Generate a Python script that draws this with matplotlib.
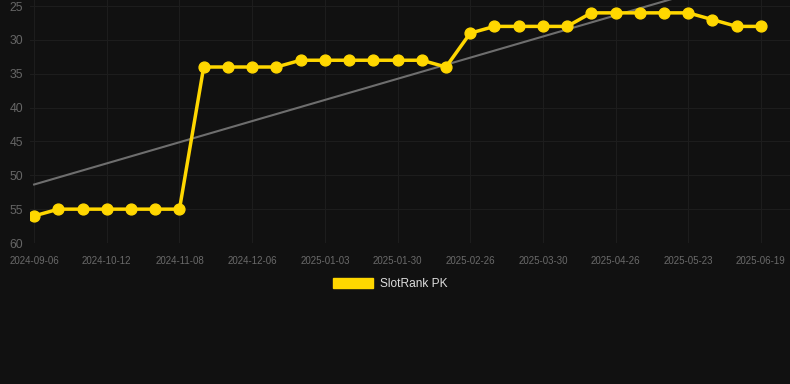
import matplotlib
matplotlib.use("Agg")
import matplotlib.pyplot as plt
from matplotlib.patches import Patch
import numpy as np

# rank per observation (lower = better), x is categorical
ranks = [56, 55, 55, 55, 55, 55, 55, 34, 34, 34, 34, 33, 33, 33, 33, 33,
         33, 34, 29, 28, 28, 28, 28, 26, 26, 26, 26, 26, 27, 28, 28]
tick_labels = ["2024-09-06", "2024-10-12", "2024-11-08", "2024-12-06",
               "2025-01-03", "2025-01-30", "2025-02-26", "2025-03-30",
               "2025-04-26", "2025-05-23", "2025-06-19"]
series_name = "SlotRank PK"

bg = "#111111"
gold = "#FFD700"

plt.rcParams["font.family"] = ["Liberation Sans", "DejaVu Sans"]

fig = plt.figure(figsize=(7.9, 3.84), dpi=100, facecolor=bg)
ax = fig.add_axes([30 / 790, 1 - 243 / 384, 760 / 790, 243 / 384])
ax.set_facecolor(bg)

x = np.arange(len(ranks))
# linear trend over the whole series
k, b = np.polyfit(x, ranks, 1)
ax.plot(x, k * x + b, color="#6e6e6e", lw=1.5, zorder=2)

ax.plot(x, ranks, color=gold, lw=2.5, marker="o", ms=7.8,
        markerfacecolor=gold, markeredgecolor=gold, zorder=3)

ax.set_ylim(60, 24.1)
ax.set_yticks([25, 30, 35, 40, 45, 50, 55, 60])
ax.set_xlim(-0.17, 31.2)
ax.set_xticks(x[::3])
ax.set_xticklabels(tick_labels)

ax.grid(True, color="#1d1d1d", lw=0.8)
ax.set_axisbelow(True)
for s in ax.spines.values():
    s.set_visible(False)
ax.tick_params(axis="y", length=0, pad=5, labelsize=8.8, labelcolor="#666666")
ax.tick_params(axis="x", length=0, pad=9, labelsize=7, labelcolor="#6a6a6a")

fig.legend(handles=[Patch(facecolor=gold, edgecolor=gold)], labels=[series_name],
           loc="center", bbox_to_anchor=(390 / 790, 1 - 284 / 384),
           frameon=False, fontsize=8.6, labelcolor="#dddddd",
           handlelength=3.35, handleheight=1.0, handletextpad=0.6)

fig.savefig("out.png", dpi=100, facecolor=bg)
